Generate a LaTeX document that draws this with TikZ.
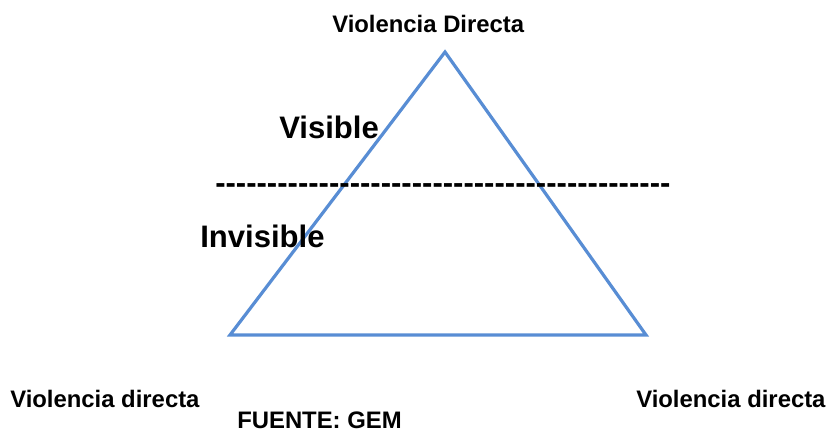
\documentclass[tikz,border=0pt]{standalone}
\usepackage{fontspec}
\setmainfont{Liberation Sans}
\definecolor{triblue}{RGB}{88,141,212}
\begin{document}
\begin{tikzpicture}[x=0.75pt,y=-0.75pt,
  lbl/.style={anchor=base west,inner sep=0pt,font=\fontsize{17.9}{20}\selectfont\bfseries},
  big/.style={anchor=base west,inner sep=0pt,font=\fontsize{23.3}{26}\selectfont\bfseries},
  tri/.style={draw=triblue,line width=2.4pt,line join=miter}]
\useasboundingbox (0,0) rectangle (828,434);
\coordinate (apex) at (445,52);
\coordinate (bl) at (230,335);
\coordinate (br) at (646,335);
\draw[tri] (apex) -- (bl) -- (br) -- cycle;
\node[lbl] (top) at (332,33) {Violencia Directa};
\node[big] (vis) at (279,139) {Visible};
\node[big] (invis) at (200,248) {Invisible};
\node[big] (dashes) at (215,194) {\foreach \k in {1,...,44}{\mbox{-}}};
\node[lbl] (left) at (10,407) {Violencia directa};
\node[lbl] (right) at (636,407) {Violencia directa};
\node[lbl] (src) at (237,428) {FUENTE: GEM};
\end{tikzpicture}
\end{document}
